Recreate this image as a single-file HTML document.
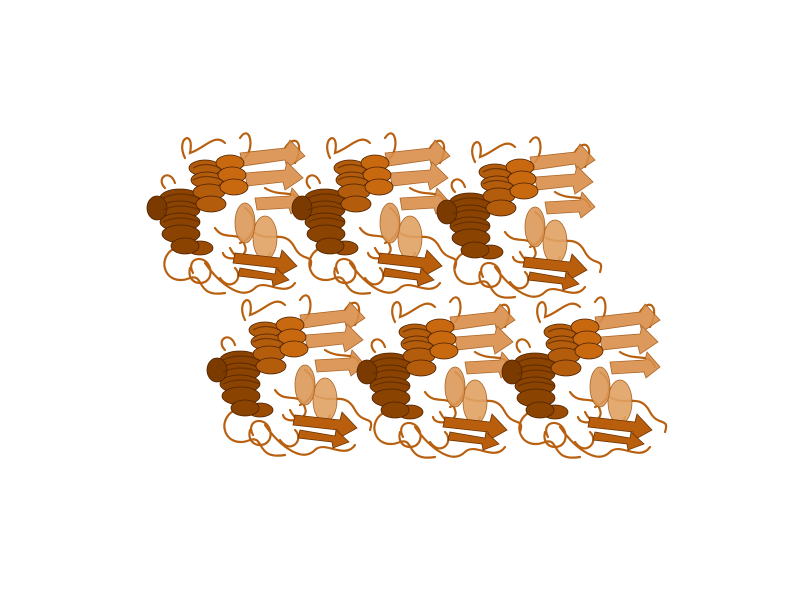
<!DOCTYPE html>
<html>
<head>
<meta charset="utf-8">
<style>
  html,body{margin:0;padding:0;background:#ffffff;}
  svg{display:block;}
</style>
</head>
<body>
<svg width="800" height="600" viewBox="0 0 800 600" xmlns="http://www.w3.org/2000/svg">
  <defs>
    <g id="unit">
      <g fill="none" stroke="#b86010" stroke-width="2.2" stroke-linecap="round">
        <path d="M40 30 C30 10, 50 0, 45 25 C60 20, 70 5, 80 15"/>
        <path d="M95 10 C105 -5, 110 20, 100 30"/>
        <path d="M140 20 C150 5, 160 15, 150 35"/>
        <path d="M30 120 C10 130, 20 160, 45 150 C60 145, 50 170, 80 165"/>
        <path d="M60 135 C70 150, 95 175, 110 160 C120 150, 140 170, 150 155"/>
        <path d="M85 120 C95 140, 120 140, 125 125"/>
        <path d="M110 105 C125 115, 140 100, 150 120 C158 135, 170 125, 165 140"/>
        <path d="M45 140 C40 160, 70 160, 65 140 C60 125, 40 130, 48 145"/>
        <path d="M75 150 C85 165, 100 150, 90 140"/>
        <path d="M120 60 C135 70, 150 60, 155 75"/>
        <path d="M70 100 C80 115, 95 100, 100 118 C105 130, 80 135, 78 125"/>
        <path d="M20 60 C10 50, 25 40, 30 55"/>
        <path d="M100 80 C115 90, 110 110, 95 115"/>
      </g>
      <g fill="#d98f4a" stroke="#a35510" stroke-width="0.8" opacity="0.9">
        <path d="M95 25 L140 20 L145 12 L160 28 L142 40 L140 32 L98 38 Z"/>
        <path d="M100 45 L140 42 L142 34 L158 50 L140 62 L138 54 L102 58 Z"/>
        <path d="M110 70 L145 68 L147 60 L160 75 L146 86 L144 80 L112 82 Z"/>
        <ellipse cx="120" cy="110" rx="12" ry="22" fill="#e0a263"/>
        <ellipse cx="100" cy="95" rx="10" ry="20" fill="#dc9858"/>
      </g>
      <g fill="#b85e0c" stroke="#6e3300" stroke-width="0.8">
        <path d="M90 125 L135 130 L137 122 L152 138 L134 148 L133 140 L88 135 Z"/>
        <path d="M95 140 L130 146 L131 140 L144 152 L128 158 L127 152 L93 148 Z"/>
      </g>
      <g fill="#8a4300" stroke="#4f2200" stroke-width="0.8">
        <ellipse cx="35" cy="70" rx="20" ry="9"/>
        <ellipse cx="35" cy="82" rx="20" ry="9"/>
        <ellipse cx="35" cy="94" rx="20" ry="9"/>
        <ellipse cx="36" cy="106" rx="19" ry="9"/>
        <ellipse cx="60" cy="40" rx="16" ry="8" fill="#b25c0c"/>
        <ellipse cx="62" cy="52" rx="16" ry="8" fill="#b25c0c"/>
        <ellipse cx="64" cy="64" rx="16" ry="8" fill="#b25c0c"/>
        <ellipse cx="66" cy="76" rx="15" ry="8" fill="#b25c0c"/>
        <ellipse cx="85" cy="35" rx="14" ry="8" fill="#c8690f"/>
        <ellipse cx="87" cy="47" rx="14" ry="8" fill="#c8690f"/>
        <ellipse cx="89" cy="59" rx="14" ry="8" fill="#c8690f"/>
        <ellipse cx="12" cy="80" rx="10" ry="12" fill="#7a3a00"/>
        <ellipse cx="55" cy="120" rx="13" ry="7" fill="#9a4c05"/>
        <ellipse cx="40" cy="118" rx="14" ry="8" fill="#8a4300"/>
      </g>
      <g fill="none" stroke="#5a2800" stroke-width="1.2" opacity="0.7">
        <path d="M18 70 Q35 62 55 70 M18 82 Q35 74 55 82 M18 94 Q35 86 55 94"/>
        <path d="M48 40 Q60 33 75 40 M48 52 Q60 45 77 52"/>
      </g>
    </g>
  </defs>
  <g>
    <use href="#unit" x="145" y="128"/>
    <use href="#unit" x="290" y="128"/>
    <use href="#unit" x="435" y="132"/>
  </g>
  <g>
    <use href="#unit" x="205" y="290"/>
    <use href="#unit" x="355" y="292"/>
    <use href="#unit" x="500" y="292"/>
  </g>
</svg>
</body>
</html>
